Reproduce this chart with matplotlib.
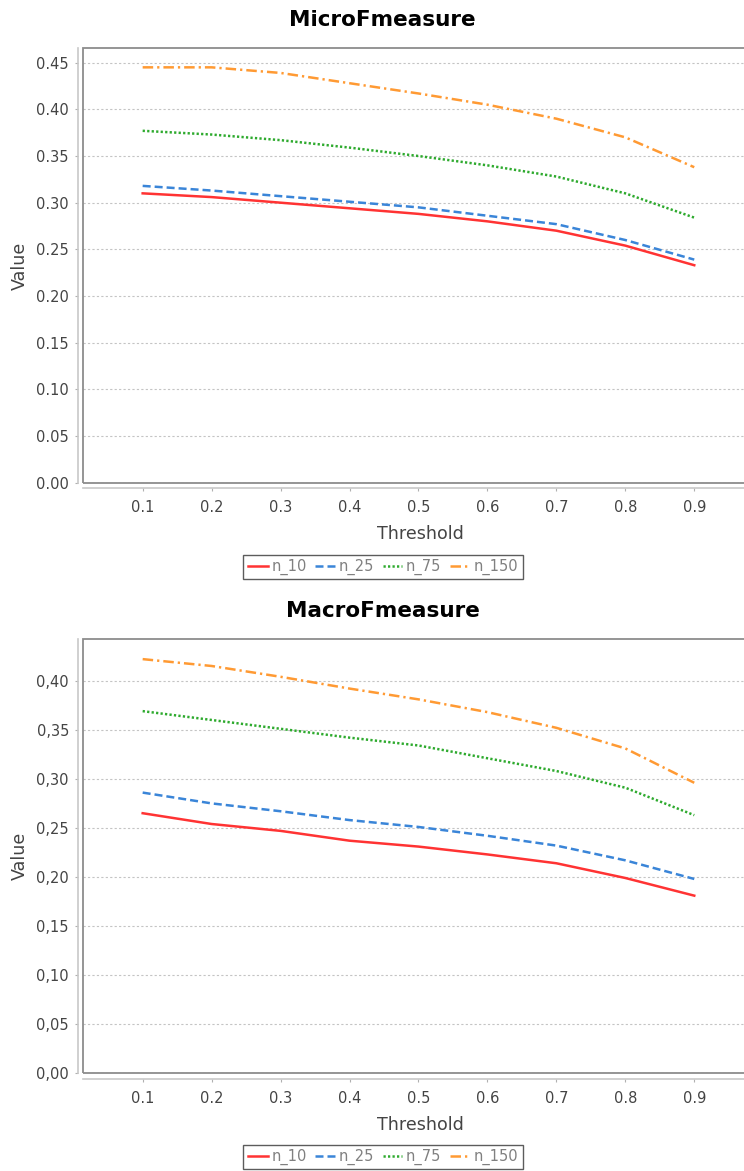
import matplotlib
matplotlib.use("Agg")
import matplotlib.pyplot as plt
from matplotlib.patches import Rectangle
from matplotlib.ticker import FuncFormatter, MultipleLocator

thresholds = [0.1, 0.2, 0.3, 0.4, 0.5, 0.6, 0.7, 0.8, 0.9]
series_names = ["n_10", "n_25", "n_75", "n_150"]

micro_n10 = [0.310, 0.306, 0.300, 0.294, 0.288, 0.280, 0.270, 0.254, 0.233]
micro_n25 = [0.318, 0.313, 0.307, 0.301, 0.295, 0.286, 0.277, 0.260, 0.239]
micro_n75 = [0.377, 0.373, 0.367, 0.359, 0.350, 0.340, 0.328, 0.310, 0.284]
micro_n150 = [0.445, 0.445, 0.439, 0.428, 0.417, 0.405, 0.390, 0.370, 0.338]

macro_n10 = [0.265, 0.254, 0.247, 0.237, 0.231, 0.223, 0.214, 0.199, 0.181]
macro_n25 = [0.286, 0.275, 0.267, 0.258, 0.251, 0.242, 0.232, 0.217, 0.198]
macro_n75 = [0.369, 0.360, 0.351, 0.342, 0.334, 0.321, 0.308, 0.291, 0.263]
macro_n150 = [0.422, 0.415, 0.404, 0.392, 0.381, 0.368, 0.352, 0.331, 0.296]

x_ticks = [0.1, 0.2, 0.3, 0.4, 0.5, 0.6, 0.7, 0.8, 0.9]

colors = ["#ff3333", "#3a85d8", "#2eaa2e", "#ff9a33"]
dashes = [None, (3.2, 1.6), (0.9, 0.9), (4.2, 1.6, 0.9, 1.6)]

plt.rcParams["font.family"] = ["DejaVu Sans"]

W, H = 744, 1171
fig = plt.figure(figsize=(W / 100, H / 100), dpi=100)

TICK_FS = 10.5
LABEL_FS = 12.6
TITLE_FS = 15.5
LW = 1.8


def px_rect(left, top, right, bottom):
    return [left / W, 1 - bottom / H, (right - left) / W, (bottom - top) / H]


def make_panel(rect, title, title_y, data, ymax, dec_sep, legend_y):
    ax = fig.add_axes(rect)
    for vals, name, c, d in zip(data, series_names, colors, dashes):
        line, = ax.plot(thresholds, vals, color=c, lw=LW, label=name)
        if d is not None:
            line.set_dashes(d)
    ax.set_xlim(0.0139, 0.991)
    ax.set_ylim(0, ymax)
    ax.set_xticks(x_ticks)
    ax.set_xticklabels([f"{t:.1f}" for t in x_ticks])
    ax.yaxis.set_major_locator(MultipleLocator(0.05))
    ax.yaxis.set_major_formatter(
        FuncFormatter(lambda v, p: f"{v:.2f}".replace(".", dec_sep)))
    ax.grid(axis="y", color="#c4c4c4", lw=0.8, linestyle=(0, (2, 2)))
    ax.set_axisbelow(True)
    for s in ["top", "right"]:
        ax.spines[s].set_visible(False)
    for s in ["left", "bottom"]:
        ax.spines[s].set_position(("outward", 3.8))
        ax.spines[s].set_color("#c8c8c8")
        ax.spines[s].set_linewidth(1.2)
    ax.add_patch(Rectangle((0, 0), 1, 1, transform=ax.transAxes, fill=False,
                           edgecolor="#8c8c8c", lw=1.3, clip_on=False, zorder=5))
    ax.tick_params(axis="both", length=2, width=0.8, color="#b0b0b0",
                   labelsize=TICK_FS, labelcolor="#444444")
    ax.tick_params(axis="y", pad=4.5)
    ax.tick_params(axis="x", pad=7)
    ax.set_xlabel("Threshold", fontsize=LABEL_FS, color="#444444")
    ax.xaxis.set_label_coords(0.5, -0.118)
    ax.xaxis.label.set_va("center")
    ax.set_ylabel("Value", fontsize=LABEL_FS, color="#444444")
    ax.yaxis.set_label_coords(-0.094, 0.5)
    ax.yaxis.label.set_va("center")
    fig.text(382.5 / W, 1 - title_y / H, title, ha="center", va="center",
             fontsize=TITLE_FS, fontweight="bold", color="black")
    leg = fig.legend(handles=ax.get_lines(), loc="center",
                     bbox_to_anchor=(383 / W, 1 - legend_y / H), ncol=4,
                     fontsize=TICK_FS, frameon=True, fancybox=False,
                     handlelength=1.35, handletextpad=0.25, columnspacing=0.6,
                     borderpad=0.3, borderaxespad=0)
    leg.get_frame().set_edgecolor("#333333")
    leg.get_frame().set_linewidth(1.0)
    for t in leg.get_texts():
        t.set_color("#808080")
    return ax


make_panel(px_rect(83.3, 48.3, 757, 482.7), "MicroFmeasure", 20,
           [micro_n10, micro_n25, micro_n75, micro_n150], 0.4654, ".", 567)
make_panel(px_rect(83.3, 639, 757, 1073.3), "MacroFmeasure", 611,
           [macro_n10, macro_n25, macro_n75, macro_n150], 0.4425, ",", 1157)

fig.savefig("out.png", dpi=100)
